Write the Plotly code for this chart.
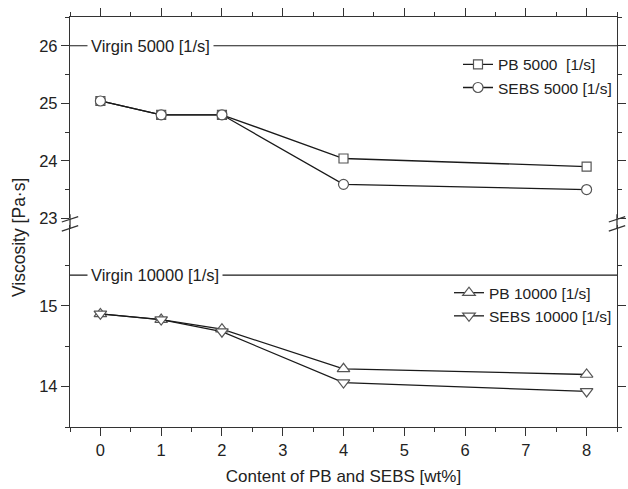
import plotly.graph_objects as go

content = [0, 1, 2, 4, 8]
pb_5000 = [25.04, 24.80, 24.80, 24.04, 23.90]
sebs_5000 = [25.04, 24.80, 24.80, 23.59, 23.50]
pb_10000 = [14.90, 14.83, 14.71, 14.22, 14.15]
sebs_10000 = [14.90, 14.83, 14.68, 14.05, 13.94]
virgin_5000 = 26.0
virgin_10000 = 15.38

upper_range = [23, 26.5]
lower_range = [13.5, 16.0]
x_range = [-0.5, 8.5]

FONT = "Liberation Sans, Arial, sans-serif"
LINE = "#1a1a1a"
MK = "#555555"
AX = "#333333"

fig = go.Figure()

def add(x, y, name, symbol, size, xa, ya, leg):
    fig.add_trace(go.Scatter(
        x=x, y=y, name=name, mode="lines+markers",
        line=dict(color=LINE, width=1.3),
        marker=dict(symbol=symbol, size=size, color="white",
                    line=dict(color=MK, width=1.2)),
        xaxis=xa, yaxis=ya, legend=leg))

add(content, pb_5000, "PB 5000  [1/s]", "square", 9, "x2", "y2", "legend")
add(content, sebs_5000, "SEBS 5000 [1/s]", "circle", 10, "x2", "y2", "legend")
add(content, pb_10000, "PB 10000 [1/s]", "triangle-up", 11, "x", "y", "legend2")
add(content, sebs_10000, "SEBS 10000 [1/s]", "triangle-down", 11, "x", "y", "legend2")

lower_dom = [0, 0.4927]
upper_dom = [0.509, 1]

axis_common = dict(showline=True, linecolor=AX, linewidth=1.3, ticks="outside",
                   ticklen=8, tickwidth=1.3, tickcolor=AX, showgrid=False,
                   zeroline=False,
                   tickfont=dict(family=FONT, size=16.5, color="#222"))
minor_common = dict(ticklen=4, ticks="outside", tickcolor=AX, tickwidth=1.3)

fig.update_layout(
    width=628, height=489,
    margin=dict(l=70, r=2, t=17, b=62),
    paper_bgcolor="white", plot_bgcolor="white",
    font=dict(family=FONT, color="#222"),
    xaxis=dict(range=x_range, domain=[0, 1], anchor="y", dtick=1, tick0=0,
               minor=dict(dtick=0.5, **minor_common),
               title=dict(text="Content of PB and SEBS [wt%]", font=dict(family=FONT, size=17, color="#222"), standoff=12),
               **axis_common),
    xaxis2=dict(range=x_range, domain=[0, 1], anchor="y2", side="top", matches="x", dtick=1, tick0=0,
                showticklabels=False,
                minor=dict(dtick=0.5, **minor_common),
                **axis_common),
    yaxis=dict(range=lower_range, domain=lower_dom, anchor="x", mirror="ticks",
               tickvals=[14, 15],
               minor=dict(tickvals=[13.5, 14.5, 15.5], **minor_common),
               **axis_common),
    yaxis2=dict(range=upper_range, domain=upper_dom, anchor="x2", mirror="ticks",
                tickvals=[23, 24, 25, 26],
                minor=dict(tickvals=[23.5, 24.5, 25.5, 26.5], **minor_common),
                **axis_common),
    legend=dict(x=1.0, xanchor="right", y=0.925, yanchor="top", bgcolor="rgba(0,0,0,0)",
                font=dict(family=FONT, size=15.5, color="#222"), itemwidth=30, tracegroupgap=0),
    legend2=dict(x=1.0, xanchor="right", y=0.368, yanchor="top", bgcolor="rgba(0,0,0,0)",
                 font=dict(family=FONT, size=15.5, color="#222"), itemwidth=30, tracegroupgap=0),
    showlegend=True,
)

# Virgin reference lines
fig.add_shape(type="line", xref="x2 domain", yref="y2", x0=0, x1=1, y0=virgin_5000, y1=virgin_5000,
              line=dict(color=LINE, width=1.2))
fig.add_shape(type="line", xref="x domain", yref="y", x0=0, x1=1, y0=virgin_10000, y1=virgin_10000,
              line=dict(color=LINE, width=1.2))
fig.add_annotation(text="Virgin 5000 [1/s]", xref="x2 domain", yref="y2", x=0.031, y=virgin_5000,
                   xanchor="left", yanchor="middle", showarrow=False, bgcolor="white", borderpad=3,
                   font=dict(family=FONT, size=16.5, color="#222"))
fig.add_annotation(text="Virgin 10000 [1/s]", xref="x domain", yref="y", x=0.031, y=virgin_10000,
                   xanchor="left", yanchor="middle", showarrow=False, bgcolor="white", borderpad=3,
                   font=dict(family=FONT, size=16.5, color="#222"))

# axis continuity across the break and break marks
for xp in (0, 1):
    fig.add_shape(type="line", xref="paper", yref="paper", x0=xp, x1=xp,
                  y0=lower_dom[1] - 0.01, y1=upper_dom[0] + 0.01, line=dict(color=AX, width=1.3))
    for dy in (0.0, 0.022):
        fig.add_shape(type="line", xref="paper", yref="paper",
                      x0=xp - 0.015, x1=xp + 0.015,
                      y0=0.478 + dy, y1=0.491 + dy, line=dict(color=AX, width=1.3))

fig.add_annotation(text="Viscosity [Pa·s]", xref="paper", yref="paper", x=0, y=0.461,
                   xanchor="center", yanchor="middle",
                   xshift=-51, textangle=-90, showarrow=False,
                   font=dict(family=FONT, size=17.5, color="#222"))

fig.write_html("out.html")
